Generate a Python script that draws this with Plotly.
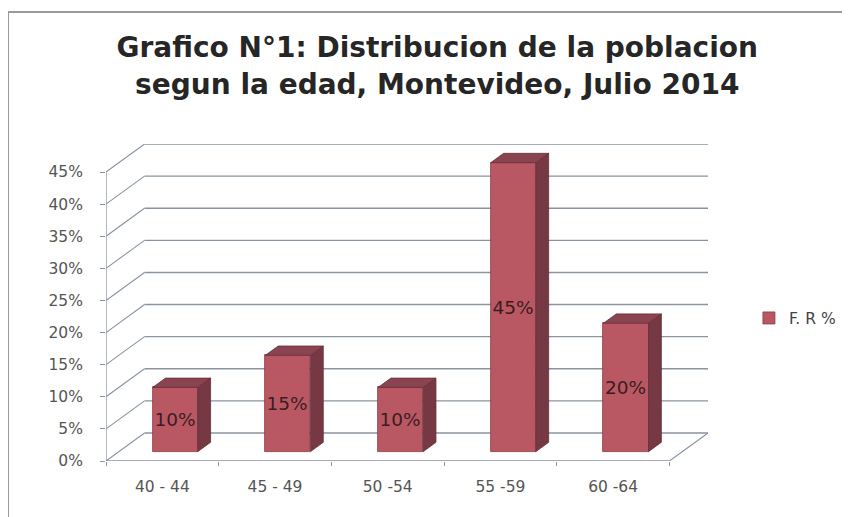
import plotly.graph_objects as go

# ---- data ----
categories = ["40 - 44", "45 - 49", "50 -54", "55 -59", "60 -64"]
values = [10, 15, 10, 45, 20]          # F. R %
value_labels = ["10%", "15%", "10%", "45%", "20%"]
y_ticks = [0, 5, 10, 15, 20, 25, 30, 35, 40, 45]
series_name = "F. R %"

# ---- 3D geometry (style constants) ----
DX = 0.342   # depth offset along x (category units)
DY = 4.36    # depth offset along y (percent units)
F1, F2 = 1 / 3, 2 / 3  # bar depth position (front / back fraction)
BAR_W = 0.4
n = len(categories)
ymax = max(y_ticks)

FRONT = "#b95862"
SIDE = "#763842"
TOP = "#8a4450"
GRID = "#8a93a2"
LABEL_FONT = "DejaVu Sans, sans-serif"

fig = go.Figure()

# side and top faces of the bars, built from the values
side_x, side_y, top_x, top_y = [], [], [], []
for i, v in enumerate(values):
    xc = i + 0.5 + DX * F1
    xl, xr = xc - BAR_W / 2, xc + BAR_W / 2
    b = DY * F1
    ddx, ddy = DX * (F2 - F1), DY * (F2 - F1)
    side_x += [xr, xr, xr + ddx, xr + ddx, xr, None]
    side_y += [b, b + v, b + v + ddy, b + ddy, b, None]
    top_x += [xl, xr, xr + ddx, xl + ddx, xl, None]
    top_y += [b + v, b + v, b + v + ddy, b + v + ddy, b + v, None]

fig.add_trace(go.Scatter(x=side_x, y=side_y, fill="toself", fillcolor=SIDE,
                         mode="lines", line=dict(color="#65303a", width=0.8),
                         showlegend=False, hoverinfo="skip"))
fig.add_trace(go.Scatter(x=top_x, y=top_y, fill="toself", fillcolor=TOP,
                         mode="lines", line=dict(color="#65303a", width=0.8),
                         showlegend=False, hoverinfo="skip"))

# front faces
fig.add_trace(go.Bar(
    x=[i + 0.5 + DX * F1 for i in range(n)],
    y=values,
    base=[DY * F1] * n,
    width=BAR_W,
    name=series_name,
    marker=dict(color=FRONT, line=dict(color="#8a3a44", width=0.8)),
    text=value_labels,
    textposition="inside",
    insidetextanchor="middle",
    textangle=0,
    constraintext="none",
    textfont=dict(family=LABEL_FONT, size=18.5, color="#3c1c22"),
    hoverinfo="skip",
))

# back wall gridlines, side wall diagonals, floor edges
shapes = []
for t in y_ticks:
    shapes.append(dict(type="line", xref="x", yref="y", x0=DX, y0=t + DY, x1=n + DX, y1=t + DY,
                       line=dict(color=GRID, width=1.4), layer="below"))
    shapes.append(dict(type="line", xref="x", yref="y", x0=0, y0=t, x1=DX, y1=t + DY,
                       line=dict(color=GRID, width=1.1), layer="below"))
# front y axis line
shapes.append(dict(type="line", xref="x", yref="y", x0=0, y0=0, x1=0, y1=ymax,
                   line=dict(color=GRID, width=1.3), layer="below"))
# front floor edge
shapes.append(dict(type="line", xref="x", yref="y", x0=0, y0=0, x1=n, y1=0,
                   line=dict(color=GRID, width=1.3), layer="below"))
# right floor diagonal
shapes.append(dict(type="line", xref="x", yref="y", x0=n, y0=0, x1=n + DX, y1=DY,
                   line=dict(color=GRID, width=1.1), layer="below"))
# outer chart frame (left and top visible)
shapes.append(dict(type="line", xref="paper", yref="paper", x0=-0.1628, y0=-0.3, x1=-0.1628, y1=1.4164,
                   line=dict(color="#9a9a9a", width=2)))
shapes.append(dict(type="line", xref="paper", yref="paper", x0=-0.1628, y0=1.4164, x1=1.3, y1=1.4164,
                   line=dict(color="#9a9a9a", width=2)))

fig.update_layout(
    width=850, height=517,
    margin=dict(l=98, r=150, t=136, b=64),
    paper_bgcolor="white", plot_bgcolor="rgba(0,0,0,0)",
    shapes=shapes,
    title=dict(
        text="Grafico N°1: Distribucion de la poblacion<br>segun la edad, Montevideo, Julio 2014",
        font=dict(family="DejaVu Sans, sans-serif", size=28, color="#262626", weight=700),
        x=0.505, xanchor="center", xref="container",
        y=0.905, yanchor="top", yref="container",
    ),
    xaxis=dict(
        range=[0, n + DX],
        tickvals=[i + 0.5 for i in range(n)],
        ticktext=categories,
        ticks="",
        showgrid=False, zeroline=False, showline=False,
        tickfont=dict(family=LABEL_FONT, size=15.5, color="#555555"),
        ticklabelstandoff=14,
        minor=dict(tickvals=list(range(n + 1)), ticks="outside", ticklen=4,
                   tickcolor=GRID, tickwidth=1.2, showgrid=False),
        fixedrange=True,
    ),
    yaxis=dict(
        range=[0, ymax + DY],
        tickvals=y_ticks,
        ticktext=[f"{t}%" for t in y_ticks],
        ticks="outside", ticklen=5, tickcolor=GRID, tickwidth=1.2,
        showgrid=False, zeroline=False, showline=False,
        tickfont=dict(family=LABEL_FONT, size=15.5, color="#555555"),
        ticklabelstandoff=14,
        fixedrange=True,
    ),
    legend=dict(
        x=1.068, y=0.45, xanchor="left", yanchor="middle",
        font=dict(family=LABEL_FONT, size=15.5, color="#444444"),
        bgcolor="rgba(0,0,0,0)", itemwidth=30,
    ),
    bargap=0,
    showlegend=True,
)

fig.write_html("out.html")
